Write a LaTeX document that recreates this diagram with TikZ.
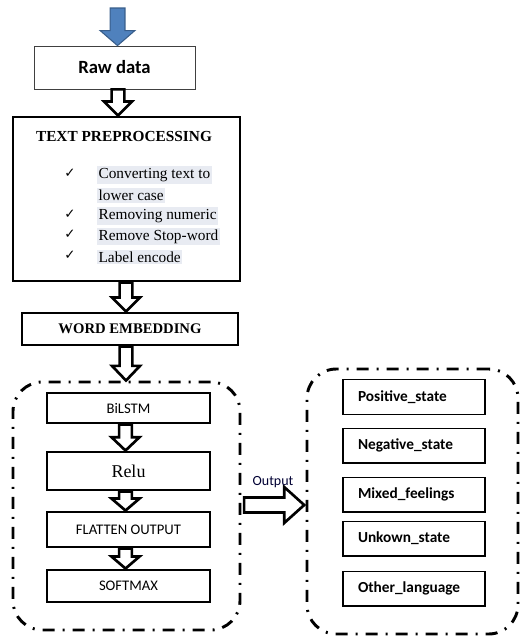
\documentclass[tikz,border=0pt]{standalone}
\usepackage{fontspec}
\setmainfont{Liberation Serif}
\newfontfamily\calfont{Carlito}
\newfontfamily\djfont{DejaVu Sans}
\usetikzlibrary{calc}
\definecolor{hl}{HTML}{E8EBF2}
\definecolor{arrblue}{HTML}{4F81BD}
\definecolor{arrbluedark}{HTML}{385D8A}
\tikzset{
  thickbox/.style={draw, line width=2.2pt, minimum width=#1, inner sep=0pt},
  thinbox/.style={draw=black!75, line width=0.6pt, inner sep=0pt},
  outbox/.style={draw, line width=1pt, minimum width=106.5pt, minimum height=26pt,
     text width=84pt, inner xsep=11.25pt, align=left, font=\calfont\bfseries\fontsize{11.5}{13}\selectfont},
  grpbox/.style={draw, line width=2.2pt, rounded corners=22pt, inner sep=0pt,
     dash pattern=on 9pt off 6pt on 1.5pt off 6pt},
  darr/.style n args={3}{to path={let \p1=(\tikztostart), \p2=(\tikztotarget) in
     (\x1-#1,\y1) -- (\x1-#1,\y2+#3) -- (\x1-#2,\y2+#3) -- (\x1,\y2) -- (\x1+#2,\y2+#3)
     -- (\x1+#1,\y2+#3) -- (\x1+#1,\y1) -- cycle}},
  rarr/.style n args={3}{to path={let \p1=(\tikztostart), \p2=(\tikztotarget) in
     (\x1,\y1-#1) -- (\x2-#3,\y1-#1) -- (\x2-#3,\y1-#2) -- (\x2,\y1) -- (\x2-#3,\y1+#2)
     -- (\x2-#3,\y1+#1) -- (\x1,\y1+#1) -- cycle}},
  hollow/.style={draw, fill=white, line width=2pt, line join=miter},
  item/.style={anchor=west, fill=hl, inner xsep=1pt, inner ysep=1.5pt, font=\fontsize{11.5}{13}\selectfont},
  chk/.style={font=\djfont\fontsize{10}{12}\selectfont, inner sep=0pt},
}
\begin{document}
\begin{tikzpicture}[x=0.75pt,y=-0.75pt]
\useasboundingbox (0,0) rectangle (520,637);
% main boxes
\node[thinbox, minimum width=120.75pt, minimum height=32.25pt, font=\calfont\bfseries\fontsize{14}{16}\selectfont] (raw) at (114.5,67.5) {Raw data};
\node[thickbox=170.25pt, minimum height=123pt] (pre) at (126.5,199) {};
\node[font=\bfseries\fontsize{11.5}{13}\selectfont] (pretitle) at (124,136) {TEXT PREPROCESSING};
\node[chk] (c1) at (70,173) {✓};
\node[chk] (c2) at (70,214) {✓};
\node[chk] (c3) at (70,234) {✓};
\node[chk] (c4) at (70,255) {✓};
\node[item] (i1) at (97,175) {Converting text to};
\node[item] (i1b) at (97,195.5) {lower case};
\node[item] (i2) at (97,216) {Removing numeric};
\node[item] (i3) at (97,236.5) {Remove Stop-word};
\node[item] (i4) at (97,257) {Label encode};
\node[thickbox=162pt, minimum height=24pt, font=\bfseries\fontsize{11}{13}\selectfont] (we) at (130,329) {WORD EMBEDDING};
% left group
\node[grpbox, minimum width=170.25pt, minimum height=186pt] (grp) at (126.5,506) {};
\node[thickbox=122.25pt, minimum height=22.5pt, font=\calfont\fontsize{11}{13}\selectfont] (bil) at (128.5,408) {BiLSTM};
\node[thickbox=122.25pt, minimum height=28.5pt, font=\fontsize{13.5}{15}\selectfont] (relu) at (128.5,471) {Relu};
\node[thickbox=122.25pt, minimum height=26.25pt, font=\calfont\fontsize{11}{13}\selectfont] (flat) at (128.5,529.5) {FLATTEN OUTPUT};
\node[thickbox=122.25pt, minimum height=24pt, font=\calfont\fontsize{11}{13}\selectfont] (soft) at (128.5,586) {SOFTMAX};
% right group
\node[grpbox, minimum width=158.25pt, minimum height=198.75pt] (outgrp) at (412.5,501.5) {};
\node[outbox] (pos) at (414,397) {Positive\_state};
\node[outbox] (neg) at (414,445.5) {Negative\_state};
\node[outbox] (mix) at (414,494.5) {Mixed\_feelings};
\node[outbox] (unk) at (414,538.5) {Unkown\_state};
\node[outbox] (oth) at (414,588.5) {Other\_language};
% arrows
\coordinate (in) at (117.5,8);
\coordinate (ax1) at (118,0);
\coordinate (ax2) at (126,0);
\coordinate (ax3) at (125.5,0);
\coordinate (ay) at (0,505);
\draw[fill=arrblue, draw=arrbluedark, line width=0.8pt, line join=miter, darr={5.6pt}{13pt}{11.25pt}] (in) to (raw.north -| in);
\draw[hollow, darr={4.8pt}{10.5pt}{10.5pt}] (raw.south -| ax1) to (pre.north -| ax1);
\draw[hollow, darr={4.8pt}{10.5pt}{10.5pt}] (pre.south -| ax2) to (we.north -| ax2);
\draw[hollow, darr={4.8pt}{10.5pt}{11pt}] (we.south -| ax2) to (grp.north -| ax2);
\draw[hollow, darr={4.8pt}{10.5pt}{10pt}] (bil.south -| ax3) to (relu.north -| ax3);
\draw[hollow, darr={4.8pt}{10.5pt}{9pt}] (relu.south -| ax3) to (flat.north -| ax3);
\draw[hollow, darr={4.8pt}{10.5pt}{9pt}] (flat.south -| ax3) to (soft.north -| ax3);
\draw[hollow, rarr={5.6pt}{13.5pt}{15pt}] ([xshift=2pt]grp.east |- ay) to ([xshift=-1pt]outgrp.west |- ay);
\node[font=\calfont\fontsize{10.5}{12}\selectfont, text=black!80!blue] (outlbl) at (273,482) {Output};
\end{tikzpicture}
\end{document}
